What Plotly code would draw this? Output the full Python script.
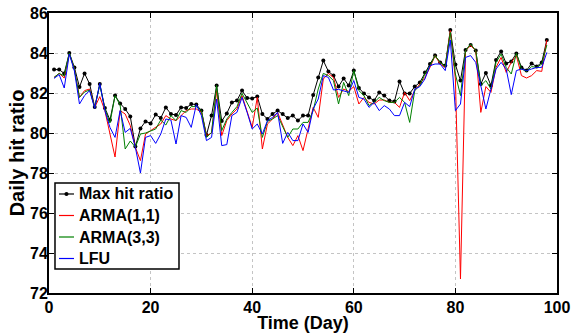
import plotly.graph_objects as go

days = list(range(1, 99))

max_hit = [
    83.17, 83.17, 82.98, 84.00, 83.28, 82.30, 82.98, 82.45, 81.30, 82.45,
    81.25, 80.65, 81.87, 81.48, 81.20, 80.83, 79.32, 80.23, 80.58, 80.48,
    80.92, 80.75, 81.28, 80.95, 80.90, 81.28, 81.25, 81.45, 81.42, 81.12,
    79.90, 80.87, 82.37, 80.60, 80.98, 81.53, 81.62, 82.12, 81.75, 81.73,
    81.82, 80.95, 80.70, 80.95, 81.12, 80.95, 80.75, 80.87, 80.62, 80.87,
    80.87, 81.90, 82.78, 83.62, 83.08, 82.87, 82.32, 82.73, 82.37, 83.12,
    82.25, 81.98, 81.78, 81.62, 82.03, 81.87, 81.62, 81.58, 82.57, 81.98,
    81.98, 82.32, 82.53, 83.03, 83.45, 83.87, 83.53, 83.37, 85.15, 83.42,
    82.62, 84.15, 84.40, 84.12, 82.45, 83.00, 82.37, 83.65, 84.08, 83.48,
    83.58, 83.98, 83.28, 83.12, 83.48, 83.32, 83.53, 84.65,
]

arma11 = [
    82.78, 82.98, 82.75, 83.95, 83.20, 81.78, 82.12, 82.20, 81.28, 81.82,
    81.12, 79.95, 78.80, 81.12, 80.95, 80.37, 79.28, 78.62, 79.95, 80.12,
    80.28, 80.45, 80.87, 80.70, 80.62, 80.87, 81.12, 81.20, 81.20, 81.03,
    79.87, 80.00, 82.12, 79.87, 80.62, 80.95, 81.20, 81.87, 81.12, 80.28,
    81.78, 79.20, 80.45, 80.70, 81.03, 80.45, 79.78, 79.37, 79.87, 79.12,
    80.28, 81.28, 80.78, 82.70, 82.98, 82.78, 81.78, 82.20, 82.08, 82.32,
    81.45, 81.78, 81.53, 81.45, 81.65, 81.65, 81.53, 81.53, 81.28, 82.03,
    81.62, 82.12, 82.45, 82.78, 83.28, 83.87, 83.45, 83.28, 85.12, 82.70,
    72.70, 84.12, 84.37, 84.12, 81.03, 82.32, 82.03, 83.28, 83.78, 83.03,
    83.53, 83.87, 82.87, 82.75, 82.87, 83.12, 83.08, 84.65,
]

arma33 = [
    82.78, 82.98, 82.85, 84.00, 83.20, 81.78, 82.05, 82.15, 81.28, 82.40,
    81.20, 80.50, 81.87, 81.40, 79.20, 79.60, 79.30, 79.95, 80.00, 80.10,
    80.20, 80.65, 80.40, 80.87, 80.62, 81.12, 81.03, 81.32, 81.32, 81.12,
    79.78, 80.03, 82.37, 80.12, 80.70, 81.03, 81.32, 81.98, 81.48, 81.03,
    81.25, 79.78, 80.58, 80.70, 80.87, 80.28, 79.78, 80.20, 80.20, 80.53,
    80.53, 81.12, 82.20, 82.98, 82.87, 82.62, 81.45, 82.53, 81.87, 83.12,
    82.12, 81.87, 81.37, 81.53, 81.78, 81.62, 81.53, 81.53, 81.78, 81.53,
    80.53, 82.12, 82.37, 82.95, 83.37, 83.87, 83.53, 83.32, 85.03, 82.95,
    81.87, 84.12, 84.45, 84.12, 82.37, 82.62, 82.20, 83.53, 83.95, 83.28,
    82.95, 83.98, 83.20, 83.08, 83.32, 83.28, 83.45, 84.40,
]

lfu = [
    82.73, 82.92, 82.25, 83.95, 83.10, 81.45, 81.87, 82.12, 81.23, 82.48,
    81.12, 80.28, 79.78, 81.12, 80.03, 80.23, 79.28, 78.00, 79.78, 79.87,
    79.48, 79.95, 80.70, 80.65, 79.45, 80.87, 80.78, 80.28, 81.42, 80.87,
    79.62, 79.78, 81.70, 79.37, 79.42, 80.87, 81.03, 81.78, 81.03, 80.20,
    80.45, 79.95, 80.62, 80.78, 81.03, 79.48, 80.03, 79.62, 79.62, 80.45,
    80.03, 81.20, 81.70, 82.87, 82.78, 82.15, 82.18, 82.12, 82.03, 82.62,
    81.78, 81.70, 81.28, 81.53, 81.12, 81.37, 81.20, 80.87, 80.87, 81.53,
    81.32, 82.20, 82.32, 82.70, 83.37, 83.45, 83.45, 83.12, 84.65, 81.12,
    81.45, 83.78, 83.87, 83.53, 82.28, 81.20, 82.20, 83.20, 83.53, 83.20,
    81.92, 83.12, 83.20, 83.12, 83.20, 83.28, 83.28, 84.03,
]

series_names = ['Max hit ratio', 'ARMA(1,1)', 'ARMA(3,3)', 'LFU']
series_colors = ['black', '#ff0000', '#008000', '#0000ff']

x_ticks = [0, 20, 40, 60, 80, 100]
y_ticks = [72, 74, 76, 78, 80, 82, 84, 86]

font_family = "Liberation Sans, Arial, sans-serif"

fig = go.Figure()

for name, color, values in zip(series_names, series_colors, [max_hit, arma11, arma33, lfu]):
    fig.add_trace(go.Scatter(
        x=days, y=values, name=name,
        mode='lines+markers' if name == 'Max hit ratio' else 'lines',
        line=dict(color=color, width=1),
        marker=dict(color=color, size=4),
        showlegend=False,
    ))

# MATLAB-style legend box drawn by hand (plotly's own legend is too loose)
box_x0, box_x1 = 0.0118, 0.2559
box_y0, box_y1 = 0.0857, 0.3929
fig.add_shape(type='rect', xref='paper', yref='paper',
              x0=box_x0, x1=box_x1, y0=box_y0, y1=box_y1,
              fillcolor='white', line=dict(color='black', width=1.5), layer='above')

item_y = [0.3536, 0.2768, 0.2000, 0.1232]
for name, color, yy in zip(series_names, series_colors, item_y):
    fig.add_shape(type='line', xref='paper', yref='paper',
                  x0=0.0197, x1=0.0492, y0=yy, y1=yy,
                  line=dict(color=color, width=1.2), layer='above')
    fig.add_annotation(xref='paper', yref='paper', x=0.0551, y=yy,
                       text='<b>%s</b>' % name, showarrow=False,
                       xanchor='left', yanchor='middle',
                       font=dict(family=font_family, size=16, color='black'))
fig.add_shape(type='circle', xref='paper', yref='paper',
              x0=0.0344 - 0.004, x1=0.0344 + 0.004,
              y0=item_y[0] - 0.007, y1=item_y[0] + 0.007,
              fillcolor='black', line=dict(color='black', width=0), layer='above')

axis_common = dict(
    showline=True, linecolor='black', linewidth=2, mirror='ticks',
    ticks='inside', ticklen=5, tickcolor='black', tickwidth=1,
    showgrid=True, gridcolor='#c4c4c4', griddash='dot', gridwidth=1,
    zeroline=False, automargin=False, ticklabeloverflow='allow',
    tickfont=dict(family=font_family, size=16, color='black', weight='bold'),
)

fig.update_layout(
    width=571, height=333,
    margin=dict(l=49, r=14, t=13, b=40),
    plot_bgcolor='white', paper_bgcolor='white',
    font=dict(family=font_family, color='black'),
    xaxis=dict(
        range=[0, 100], tickvals=x_ticks, ticklabelstandoff=-1,
        title=dict(text='<b>Time (Day)</b>', font=dict(size=18), standoff=5),
        **axis_common
    ),
    yaxis=dict(
        range=[72, 86], tickvals=y_ticks, ticklabelstandoff=-4,
        title=dict(text='<b>Daily hit ratio</b>', font=dict(size=20), standoff=0),
        **axis_common
    ),
    showlegend=False,
)

# drop the default 8px body margin so the figure sits at the page corner
fig.write_html("out.html", config={'displayModeBar': False},
               post_script="document.body.style.margin='0';")
